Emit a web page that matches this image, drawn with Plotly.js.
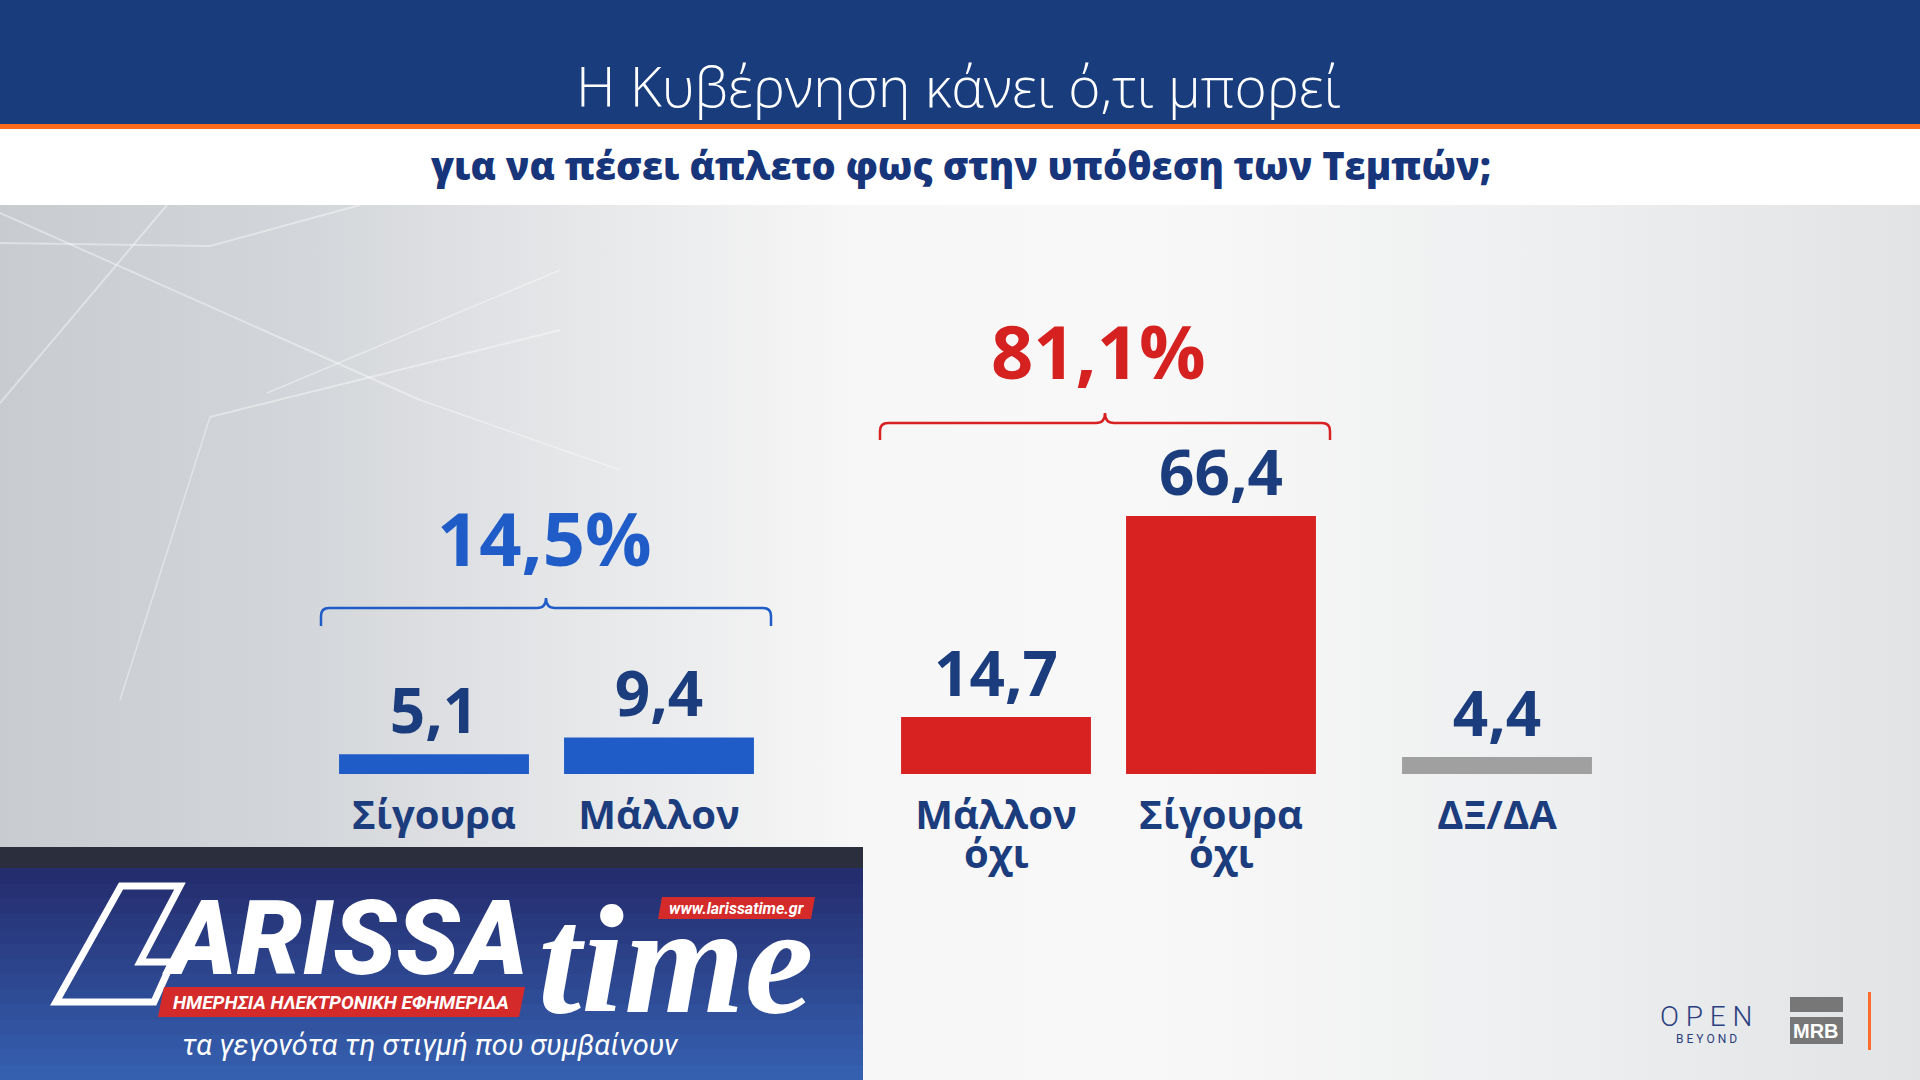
<!DOCTYPE html>
<html>
<head>
<meta charset="utf-8">
<script src="https://cdn.plot.ly/plotly-3.0.1.min.js"></script>
<style>
html,body{margin:0;padding:0;width:1920px;height:1080px;overflow:hidden;}
body{background:linear-gradient(90deg,#c8ccd1 0%,#d2d5d9 15%,#e6e7e9 30%,#f7f7f7 45%,#f8f8f8 60%,#eeeff0 80%,#e2e3e5 100%);}
#chart{width:1920px;height:1080px;}
</style>
</head>
<body>
<div id="chart"></div>
<script>
// ---- data ----
const titleText = 'Η Κυβέρνηση κάνει ό,τι μπορεί';
const subtitleText = 'για να πέσει άπλετο φως στην υπόθεση των Τεμπών;';
const yesCats = ['Σίγουρα', 'Μάλλον'];
const yesVals = [5.1, 9.4];
const noCats = ['Μάλλον όχι', 'Σίγουρα όχι'];
const noVals = [14.7, 66.4];
const dkCats = ['ΔΞ/ΔΑ'];
const dkVals = [4.4];

// ---- helpers ----
const W = 1920, H = 1080;
const X = px => px / W;
const Y = py => 1 - py / H;
const fmt = v => v.toFixed(1).replace('.', ',');
const sum = a => a.reduce((s, v) => s + v, 0);
const line1 = c => c.split(' ')[0];
const line2 = c => c.split(' ').slice(1).join(' ');

const NAVY = '#1b3c7d';
const BLUE = '#1f5cc7';
const RED = '#d82222';
const GREY = '#a0a0a0';
const FONT = 'Open Sans, Noto Sans, sans-serif';
const TICKFONT = {family: FONT, size: 40, color: NAVY, weight: 700};

function barTrace(cats, vals, color, xa) {
  return {
    type: 'bar', x: cats, y: vals, xaxis: xa, yaxis: 'y',
    marker: {color: color, line: {width: 0}},
    text: vals.map(fmt), textposition: 'outside', cliponaxis: false,
    constraintext: 'none',
    textfont: {family: FONT, size: 62, color: NAVY, weight: 700},
    hoverinfo: 'skip', showlegend: false
  };
}

const data = [
  barTrace(yesCats, yesVals, BLUE, 'x'),
  barTrace(noCats, noVals, RED, 'x2'),
  barTrace(dkCats, dkVals, GREY, 'x3')
];

function xAxis(x0, x1, cats) {
  return {
    domain: [X(x0), X(x1)], anchor: 'y', type: 'category',
    showline: false, showgrid: false, zeroline: false, ticks: '',
    tickmode: 'array', tickvals: cats, ticktext: cats.map(line1),
    tickfont: TICKFONT,
    ticklabelstandoff: 14, fixedrange: true
  };
}

// curly bracket path in paper coords
function bracket(L, R, apexX, lineY, endY, apexY, color) {
  const r = 8;
  const p = (x, y) => X(x) + ',' + Y(y);
  const d = 'M' + p(L, endY) +
    ' L' + p(L, lineY + r) + ' Q' + p(L, lineY) + ' ' + p(L + r, lineY) +
    ' L' + p(apexX - 9, lineY) + ' Q' + p(apexX, lineY) + ' ' + p(apexX, apexY) +
    ' Q' + p(apexX, lineY) + ' ' + p(apexX + 9, lineY) +
    ' L' + p(R - r, lineY) + ' Q' + p(R, lineY) + ' ' + p(R, lineY + r) +
    ' L' + p(R, endY);
  return {type: 'path', xref: 'paper', yref: 'paper', path: d,
    line: {color: color, width: 2.5}, layer: 'above'};
}

function rect(x0, y0, x1, y1, fill, layer) {
  return {type: 'rect', xref: 'paper', yref: 'paper', x0: X(x0), x1: X(x1),
    y0: Y(y1), y1: Y(y0), fillcolor: fill, line: {width: 0}, layer: layer || 'below'};
}
function line(x0, y0, x1, y1, color, w) {
  return {type: 'line', xref: 'paper', yref: 'paper', x0: X(x0), y0: Y(y0),
    x1: X(x1), y1: Y(y1), line: {color: color, width: w}, layer: 'below'};
}

const shapes = [];
// faint background lines
const fl = 'rgba(255,255,255,0.4)';
shapes.push(line(0, 243, 210, 246, fl, 2));
shapes.push(line(210, 246, 360, 205, fl, 2));
shapes.push(line(167, 205, 0, 403, fl, 2));
shapes.push(line(0, 213, 420, 400, fl, 2));
shapes.push(line(420, 400, 620, 470, fl, 1.5));
shapes.push(line(210, 417, 560, 330, fl, 2));
shapes.push(line(267, 393, 560, 270, fl, 1.5));
shapes.push(line(210, 417, 120, 700, fl, 1.5));
// header
shapes.push(rect(0, 0, 1920, 124, '#183c7c'));
shapes.push(rect(0, 124, 1920, 129, '#ff6b1c'));
shapes.push(rect(0, 129, 1920, 205, '#ffffff'));
// logo box (gradient strips)
shapes.push(rect(0, 847, 863, 868, '#2b2e3d'));
const g0 = [36, 45, 110], g1 = [53, 95, 175];
const nS = 14;
for (let i = 0; i < nS; i++) {
  const t = i / (nS - 1);
  const c = g0.map((v, k) => Math.round(v + (g1[k] - v) * t));
  const y0 = 868 + (1080 - 868) * i / nS, y1 = 868 + (1080 - 868) * (i + 1) / nS + 1;
  shapes.push(rect(0, y0, 863, y1, 'rgb(' + c.join(',') + ')'));
}
// L outline
(function () {
  const p = (x, y) => X(x) + ',' + Y(y);
  const d = 'M' + p(121, 886) + ' L' + p(180, 886) + ' L' + p(140, 962) +
    ' L' + p(172, 962) + ' L' + p(154, 1002) + ' L' + p(56, 1002) + ' Z';
  shapes.push({type: 'path', xref: 'paper', yref: 'paper', path: d,
    line: {color: '#ffffff', width: 7}, fillcolor: 'rgba(0,0,0,0)', layer: 'above'});
})();
// red banners in logo
shapes.push({type: 'path', xref: 'paper', yref: 'paper', layer: 'above',
  path: 'M' + X(164) + ',' + Y(987) + ' L' + X(525) + ',' + Y(987) + ' L' + X(519) + ',' + Y(1017) + ' L' + X(158) + ',' + Y(1017) + ' Z',
  fillcolor: '#d42a2a', line: {width: 0}});
shapes.push({type: 'path', xref: 'paper', yref: 'paper', layer: 'above',
  path: 'M' + X(662) + ',' + Y(897) + ' L' + X(815) + ',' + Y(897) + ' L' + X(811) + ',' + Y(919) + ' L' + X(658) + ',' + Y(919) + ' Z',
  fillcolor: '#d42a2a', line: {width: 0}});
// brackets
shapes.push(bracket(321, 771, 546, 608, 626, 598, BLUE));
shapes.push(bracket(880, 1330, 1105, 423, 440, 413, RED));
// bottom right logos
shapes.push(rect(1790, 997, 1843, 1012, '#777777', 'above'));
shapes.push(rect(1790, 1017, 1843, 1044, '#777777', 'above'));
shapes.push(rect(1868, 992, 1871, 1050, '#ff6b2a', 'above'));

function ann(text, x, y, font, xanchor) {
  return {text: text, x: X(x), y: Y(y), xref: 'paper', yref: 'paper', showarrow: false,
    xanchor: xanchor || 'center', yanchor: 'middle', font: font};
}

const annotations = [
  ann(titleText, 958, 86, {family: FONT, size: 55, color: '#ffffff', weight: 300}),
  ann(subtitleText, 960, 165, {family: FONT, size: 38, color: '#17357a', weight: 800}),
  ann(fmt(sum(yesVals)) + '%', 544, 537, {family: FONT, size: 74, color: BLUE, weight: 700}),
  ann(fmt(sum(noVals)) + '%', 1098, 351, {family: FONT, size: 74, color: '#d62121', weight: 700}),
  // logo texts
  ann('<i>ARISSA</i>', 160, 938, {family: 'Roboto, sans-serif', size: 104, color: '#ffffff', weight: 900}, 'left'),
  ann('<i>time</i>', 536, 960, {family: 'Liberation Serif, serif', size: 155, color: '#ffffff', weight: 700}, 'left'),
  ann('<i>ΗΜΕΡΗΣΙΑ ΗΛΕΚΤΡΟΝΙΚΗ ΕΦΗΜΕΡΙΔΑ</i>', 341, 1002, {family: 'Roboto, sans-serif', size: 19, color: '#ffffff', weight: 700}),
  ann('<i>www.larissatime.gr</i>', 737, 908, {family: 'Roboto, sans-serif', size: 16, color: '#ffffff', weight: 700}),
  ann('<i>τα γεγονότα τη στιγμή που συμβαίνουν</i>', 430, 1045, {family: 'Roboto, sans-serif', size: 29, color: '#ffffff', weight: 400}),
  ann('O P E N', 1706, 1016, {family: 'Roboto, sans-serif', size: 28, color: '#2a3f7f', weight: 300}),
  ann('B E Y O N D', 1706, 1039, {family: 'Roboto, sans-serif', size: 12, color: '#2a3f7f', weight: 400}),
  ann('MRB', 1816, 1031, {family: 'Liberation Sans, Arial, sans-serif', size: 20, color: '#ffffff', weight: 700})
];

// second lines of two-word category labels, placed under their category
noCats.forEach(c => {
  if (line2(c)) {
    annotations.push({text: line2(c), xref: 'x2', x: c, yref: 'paper', y: Y(852),
      showarrow: false, xanchor: 'center', yanchor: 'middle', font: TICKFONT});
  }
});

const layout = {
  width: W, height: H,
  margin: {l: 0, r: 0, t: 0, b: 0, pad: 0},
  paper_bgcolor: 'rgba(0,0,0,0)', plot_bgcolor: 'rgba(0,0,0,0)',
  bargap: 0.156,
  showlegend: false,
  xaxis: xAxis(321.5, 771.5, yesCats),
  xaxis2: xAxis(883.5, 1333.5, noCats),
  xaxis3: xAxis(1384.5, 1609.5, dkCats),
  yaxis: {domain: [Y(774), Y(502)], range: [0, 70], visible: false, fixedrange: true},
  shapes: shapes,
  annotations: annotations
};

Plotly.newPlot('chart', data, layout, {displayModeBar: false, staticPlot: true});
</script>
</body>
</html>
